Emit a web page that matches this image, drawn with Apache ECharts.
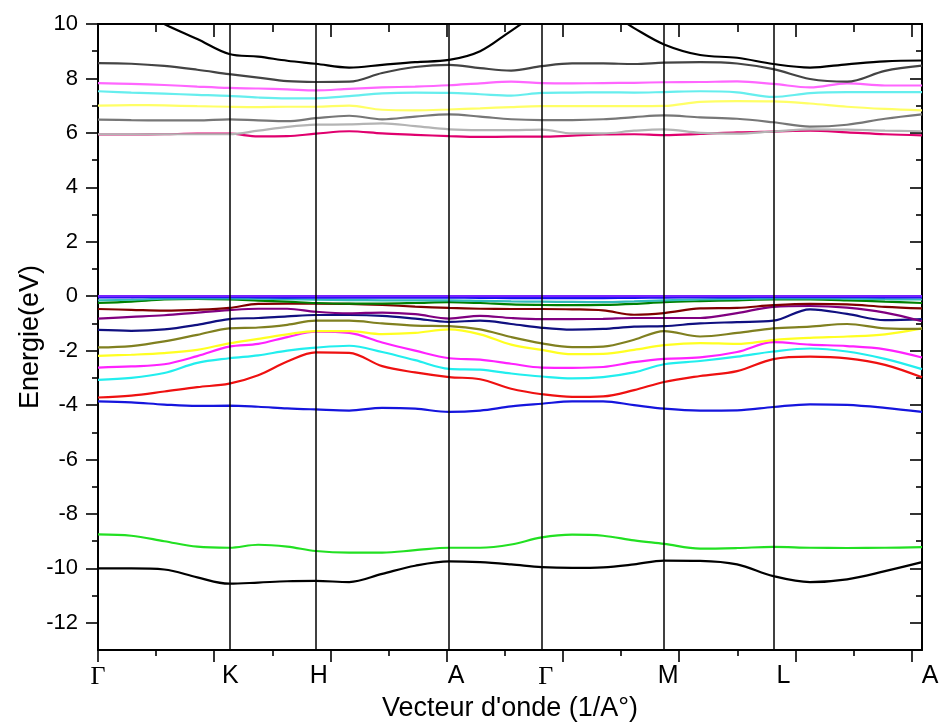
<!DOCTYPE html>
<html>
<head>
<meta charset="utf-8">
<script src="https://cdn.jsdelivr.net/npm/echarts@6/dist/echarts.min.js"></script>
<style>
html,body{margin:0;padding:0;background:#fff;}
#chart{width:943px;height:727px;}
</style>
</head>
<body>
<div id="chart"></div>
<script>
// k-path coordinate (tick units) of the sampled points
var kx = [0, 0.573, 1.140, 1.708, 2.258, 2.757, 3.256, 3.746, 4.322, 4.890, 5.457, 6.042, 6.575, 7.109, 7.637, 8.158, 8.691, 9.224, 9.740, 10.360, 10.996, 11.620, 12.251, 12.888, 13.541, 14.178];
// high-symmetry points
var symNames = ['Γ', 'K', 'H', 'A', 'Γ', 'M', 'L', 'A'];
var symPos = [0, 2.258, 3.746, 6.042, 7.637, 9.740, 11.620, 14.178];
var xMax = 14.178;
var yTickMajor = [-12, -10, -8, -6, -4, -2, 0, 2, 4, 6, 8, 10];
var yTickMinor = [-11, -9, -7, -5, -3, -1, 1, 3, 5, 7, 9];
var xTickMajor = [0, 2, 4, 6, 8, 10, 12, 14];
var xTickMinor = [1, 3, 5, 7, 9, 11, 13];

// conduction bands
var cBlack = [11.0, 10.7, 10.0, 9.45, 8.90, 8.80, 8.65, 8.54, 8.40, 8.50, 8.60, 8.68, 9.0, 9.75, 10.45, 10.7, 10.55, 9.85, 9.25, 8.86, 8.76, 8.53, 8.40, 8.52, 8.63, 8.66];
var cDark = [8.56, 8.54, 8.46, 8.32, 8.16, 8.03, 7.90, 7.87, 7.88, 8.20, 8.42, 8.50, 8.38, 8.29, 8.45, 8.55, 8.55, 8.53, 8.58, 8.60, 8.55, 8.34, 7.98, 7.88, 8.28, 8.47];
var cMagenta = [7.83, 7.80, 7.76, 7.70, 7.65, 7.63, 7.60, 7.56, 7.62, 7.67, 7.70, 7.75, 7.82, 7.88, 7.83, 7.82, 7.83, 7.84, 7.86, 7.87, 7.89, 7.80, 7.67, 7.82, 7.74, 7.74];
var cCyan = [7.53, 7.48, 7.44, 7.40, 7.36, 7.30, 7.27, 7.27, 7.35, 7.45, 7.48, 7.47, 7.42, 7.37, 7.47, 7.48, 7.49, 7.48, 7.50, 7.53, 7.49, 7.32, 7.46, 7.50, 7.50, 7.50];
var cYellow = [7.00, 7.02, 7.01, 6.98, 6.96, 6.95, 6.96, 6.96, 7.00, 6.85, 6.83, 6.86, 6.90, 6.95, 6.98, 6.98, 6.98, 6.98, 6.99, 7.14, 7.17, 7.16, 7.08, 6.96, 6.88, 6.83];
var cGray = [6.49, 6.47, 6.46, 6.46, 6.50, 6.46, 6.43, 6.54, 6.63, 6.50, 6.60, 6.68, 6.60, 6.50, 6.47, 6.47, 6.50, 6.58, 6.64, 6.57, 6.52, 6.39, 6.23, 6.30, 6.52, 6.68];
var cLight = [5.95, 5.95, 5.95, 5.95, 5.95, 6.08, 6.22, 6.30, 6.31, 6.35, 6.25, 6.13, 6.10, 6.10, 6.12, 5.98, 5.98, 6.08, 6.13, 6.00, 5.97, 6.05, 6.13, 6.12, 6.08, 6.06];
var cCrimson = [5.94, 5.94, 5.95, 5.97, 5.97, 5.87, 5.88, 5.97, 6.06, 5.98, 5.93, 5.88, 5.85, 5.86, 5.86, 5.90, 5.94, 5.95, 5.92, 5.96, 6.02, 6.05, 6.08, 6.02, 5.95, 5.91];

// valence bands
var vViolet = [0.0, 0.0, 0.0, 0.0, 0.0, 0.0, 0.0, 0.0, 0.0, 0.0, 0.0, 0.0, 0.0, 0.0, 0.0, 0.0, 0.0, 0.0, 0.0, 0.0, 0.0, 0.0, 0.0, 0.0, 0.0, 0.0];
var vBlue0 = [-0.04, -0.04, -0.03, -0.03, -0.03, -0.04, -0.05, -0.05, -0.05, -0.05, -0.05, -0.05, -0.06, -0.07, -0.07, -0.07, -0.07, -0.06, -0.05, -0.04, -0.04, -0.03, -0.03, -0.03, -0.04, -0.04];
var vTeal = [-0.15, -0.13, -0.09, -0.08, -0.08, -0.09, -0.11, -0.13, -0.14, -0.15, -0.15, -0.15, -0.17, -0.19, -0.20, -0.21, -0.22, -0.19, -0.15, -0.12, -0.10, -0.08, -0.08, -0.09, -0.11, -0.12];
var vGreen = [-0.25, -0.20, -0.12, -0.10, -0.12, -0.16, -0.20, -0.25, -0.27, -0.27, -0.25, -0.22, -0.25, -0.30, -0.32, -0.33, -0.32, -0.28, -0.22, -0.18, -0.15, -0.12, -0.12, -0.15, -0.20, -0.25];
var vMaroon = [-0.47, -0.50, -0.53, -0.50, -0.43, -0.28, -0.27, -0.27, -0.28, -0.32, -0.38, -0.43, -0.46, -0.47, -0.47, -0.48, -0.52, -0.68, -0.62, -0.45, -0.43, -0.33, -0.28, -0.30, -0.39, -0.45];
var vPurple = [-0.82, -0.76, -0.70, -0.60, -0.51, -0.46, -0.46, -0.57, -0.63, -0.60, -0.66, -0.82, -0.72, -0.80, -0.84, -0.84, -0.83, -0.80, -0.80, -0.80, -0.62, -0.39, -0.36, -0.42, -0.60, -0.92];
var vNavy = [-1.24, -1.27, -1.22, -1.05, -0.84, -0.80, -0.74, -0.69, -0.69, -0.72, -0.82, -0.94, -0.90, -1.02, -1.16, -1.23, -1.20, -1.12, -1.10, -1.00, -0.95, -0.90, -0.48, -0.65, -0.88, -0.84];
var vOlive = [-1.88, -1.83, -1.66, -1.42, -1.18, -1.15, -1.05, -0.90, -0.90, -1.00, -1.08, -1.10, -1.22, -1.50, -1.73, -1.87, -1.85, -1.60, -1.28, -1.48, -1.35, -1.18, -1.12, -1.02, -1.18, -1.20];
var vYellow = [-2.19, -2.15, -2.09, -1.97, -1.73, -1.57, -1.40, -1.28, -1.28, -1.39, -1.35, -1.22, -1.40, -1.78, -1.97, -2.13, -2.12, -1.97, -1.80, -1.72, -1.75, -1.61, -1.53, -1.48, -1.40, -1.18];
var vMagenta = [-2.62, -2.58, -2.50, -2.20, -1.85, -1.75, -1.50, -1.30, -1.35, -1.70, -2.00, -2.28, -2.33, -2.48, -2.62, -2.63, -2.60, -2.42, -2.30, -2.25, -2.05, -1.69, -1.78, -1.83, -1.95, -2.25];
var vCyan = [-3.07, -3.00, -2.82, -2.45, -2.28, -2.17, -2.00, -1.89, -1.82, -2.05, -2.35, -2.67, -2.70, -2.84, -2.95, -3.02, -2.97, -2.80, -2.50, -2.38, -2.22, -2.03, -1.92, -2.03, -2.30, -2.68];
var vRed = [-3.72, -3.65, -3.50, -3.34, -3.21, -2.90, -2.40, -2.06, -2.08, -2.57, -2.80, -2.97, -3.05, -3.40, -3.60, -3.70, -3.68, -3.45, -3.15, -2.93, -2.75, -2.31, -2.22, -2.28, -2.52, -2.98];
var vBlue = [-3.86, -3.90, -3.98, -4.03, -4.02, -4.06, -4.12, -4.16, -4.20, -4.10, -4.13, -4.25, -4.20, -4.05, -3.95, -3.86, -3.86, -4.00, -4.13, -4.20, -4.19, -4.07, -3.97, -3.99, -4.10, -4.25];

// deep bands
var dGreen = [-8.75, -8.80, -9.00, -9.20, -9.24, -9.13, -9.20, -9.36, -9.42, -9.42, -9.33, -9.24, -9.24, -9.12, -8.86, -8.76, -8.80, -8.97, -9.10, -9.27, -9.25, -9.21, -9.24, -9.25, -9.24, -9.22];
var dBlack = [-10.00, -10.00, -10.04, -10.33, -10.56, -10.52, -10.47, -10.46, -10.50, -10.20, -9.90, -9.74, -9.77, -9.85, -9.95, -9.98, -9.96, -9.85, -9.71, -9.72, -9.85, -10.28, -10.50, -10.40, -10.10, -9.77];

var bands = [
  {d: cCrimson, c: '#e0006e'},
  {d: cLight, c: '#b4b4b4'},
  {d: cGray, c: '#777777'},
  {d: cYellow, c: '#ffff66'},
  {d: cCyan, c: '#66eeee'},
  {d: cMagenta, c: '#ff66ff'},
  {d: cDark, c: '#444444'},
  {d: cBlack, c: '#000000'},
  {d: vBlue, c: '#1515dd'},
  {d: vRed, c: '#ee1111'},
  {d: vCyan, c: '#22eeee'},
  {d: vMagenta, c: '#ff22ff'},
  {d: vYellow, c: '#ffff22'},
  {d: vOlive, c: '#808020'},
  {d: vNavy, c: '#101080'},
  {d: vPurple, c: '#800080'},
  {d: vMaroon, c: '#800000'},
  {d: vGreen, c: '#008000'},
  {d: vTeal, c: '#33bbbb'},
  {d: vBlue0, c: '#1010ee'},
  {d: vViolet, c: '#7722ff'},
  {d: dGreen, c: '#22e022'},
  {d: dBlack, c: '#000000'}
];

var FONT = 'Liberation Sans';
var series = bands.map(function (b) {
  return {
    type: 'line',
    xAxisIndex: 0, yAxisIndex: 0,
    data: kx.map(function (x, i) { return [x, b.d[i]]; }),
    smooth: 0.35,
    showSymbol: false,
    silent: true,
    clip: true,
    lineStyle: {color: b.c, width: 2.2},
    z: 3
  };
});
series.push({
  type: 'line', xAxisIndex: 0, yAxisIndex: 0, data: [], silent: true,
  markLine: {
    silent: true, symbol: 'none', animation: false,
    label: {show: false},
    lineStyle: {color: '#000', width: 1.5, type: 'solid'},
    data: symPos.slice(1, symPos.length - 1).map(function (p) { return {xAxis: p}; })
  },
  z: 4
});

function xAx(pos, ticks, len, inside, main) {
  return {
    type: 'value', position: pos, min: 0, max: xMax,
    axisLine: {show: main, onZero: false, lineStyle: {color: '#000', width: 2}},
    axisTick: {show: true, inside: inside, length: len, customValues: ticks, lineStyle: {color: '#000', width: 1.6}},
    axisLabel: {show: false},
    splitLine: {show: false}
  };
}
function yAx(pos, ticks, len, inside, main) {
  return {
    type: 'value', position: pos, min: -13, max: 10,
    axisLine: {show: main, onZero: false, lineStyle: {color: '#000', width: 2}},
    axisTick: {show: true, inside: inside, length: len, customValues: ticks, lineStyle: {color: '#000', width: 1.6}},
    axisLabel: {show: false},
    splitLine: {show: false}
  };
}

// label styles: small horizontal nudges like the original figure
var labelRich = {
  l0: {fontFamily: 'Liberation Serif', fontSize: 26, color: '#000', padding: [0, 0, 0, 0]},
  l1: {fontFamily: FONT, fontSize: 25, color: '#000', padding: [0, 0, 0, 2]},
  l2: {fontFamily: FONT, fontSize: 25, color: '#000', padding: [0, 0, 0, 6]},
  l3: {fontFamily: FONT, fontSize: 25, color: '#000', padding: [0, 0, 0, 14]},
  l4: {fontFamily: 'Liberation Serif', fontSize: 26, color: '#000', padding: [0, 0, 0, 8]},
  l5: {fontFamily: FONT, fontSize: 25, color: '#000', padding: [0, 0, 0, 8]},
  l6: {fontFamily: FONT, fontSize: 25, color: '#000', padding: [0, 0, 0, 20]},
  l7: {fontFamily: FONT, fontSize: 25, color: '#000', padding: [0, 0, 0, 16]}
};

var xMain = xAx('bottom', xTickMajor, 12, false, true);
xMain.axisLabel = {
  show: true, customValues: symPos, margin: 14,
  color: '#000', fontFamily: FONT, fontSize: 25,
  formatter: function (v) {
    for (var i = 0; i < symPos.length; i++) {
      if (Math.abs(symPos[i] - v) < 1e-6) {
        return '{l' + i + '|' + symNames[i] + '}';
      }
    }
    return '';
  },
  rich: labelRich
};
xMain.name = "Vecteur d'onde (1/A°)";
xMain.nameLocation = 'middle';
xMain.nameGap = 42;
xMain.nameTextStyle = {color: '#000', fontFamily: FONT, fontSize: 27};

var yMain = yAx('left', yTickMajor, 12, false, true);
yMain.axisLabel = {show: true, customValues: yTickMajor, margin: 20, color: '#000', fontFamily: FONT, fontSize: 22};
yMain.name = 'Energie(eV)';
yMain.nameLocation = 'middle';
yMain.nameRotate = 90;
yMain.nameGap = 54;
yMain.nameMoveOverlap = false;
yMain.nameTextStyle = {color: '#000', fontFamily: FONT, fontSize: 27};

var option = {
  animation: false,
  backgroundColor: '#fff',
  grid: {left: 98, right: 21, top: 24, bottom: 74, containLabel: false},
  xAxis: [
    xMain,
    xAx('bottom', xTickMinor, 6, false, false),
    xAx('top', xTickMajor, 13, true, true),
    xAx('top', xTickMinor, 8, true, false)
  ],
  yAxis: [
    yMain,
    yAx('left', yTickMinor, 6, false, false),
    yAx('right', yTickMajor, 12, true, true),
    yAx('right', yTickMinor, 6, true, false)
  ],
  series: series
};

var chart = echarts.init(document.getElementById('chart'), null, {renderer: 'canvas'});
chart.setOption(option);
</script>
</body>
</html>
